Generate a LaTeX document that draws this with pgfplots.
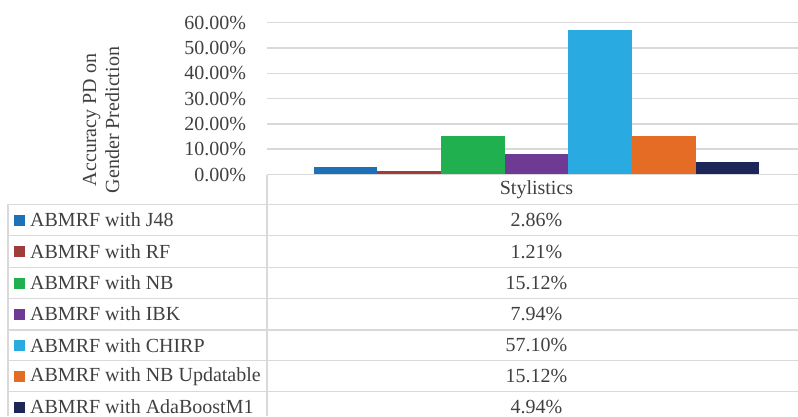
\documentclass[border=0pt]{standalone}
\usepackage{pgfplots}
\pgfplotsset{compat=1.18}
\usepackage{fontspec}
\setmainfont{Liberation Serif}
\definecolor{cJ}{HTML}{1C71B8}
\definecolor{cRF}{HTML}{A03C3A}
\definecolor{cNB}{HTML}{21B04F}
\definecolor{cIBK}{HTML}{6F3A93}
\definecolor{cCH}{HTML}{29ABE2}
\definecolor{cNBU}{HTML}{E46C24}
\definecolor{cAB}{HTML}{1D2659}
\definecolor{txt}{HTML}{404040}
\definecolor{ln}{HTML}{D9D9D9}
\begin{document}
\fontsize{20}{23}\selectfont
\begin{tikzpicture}
\useasboundingbox (0,0) rectangle (798pt,-416pt);
\clip (0,0) rectangle (798pt,-416pt);
\begin{axis}[
  at={(267pt,-174.5pt)}, anchor=south west,
  scale only axis, width=539pt, height=151.8pt,
  xmin=-0.5, xmax=0.5, ymin=0, ymax=60,
  ytick={0,10,20,30,40,50,60}, xtick=\empty,
  /pgf/number format/assume math mode=true,
  yticklabel={\pgfmathprintnumber[fixed,fixed zerofill,precision=2]{\tick}\%},
  yticklabel style={font=\fontsize{20}{23}\selectfont, text=txt, anchor=east, xshift=-14pt},
  major tick length=0pt,
  ymajorgrids, grid style={draw=ln, line width=1.5pt},
  axis line style={draw=none},
  ybar=0pt, bar width=63.7pt,
  clip=false,
]
\addplot[fill=cJ, draw=none] coordinates {(0,2.86)};
\addplot[fill=cRF, draw=none] coordinates {(0,1.21)};
\addplot[fill=cNB, draw=none] coordinates {(0,15.12)};
\addplot[fill=cIBK, draw=none] coordinates {(0,7.94)};
\addplot[fill=cCH, draw=none] coordinates {(0,57.10)};
\addplot[fill=cNBU, draw=none] coordinates {(0,15.12)};
\addplot[fill=cAB, draw=none] coordinates {(0,4.94)};
\end{axis}
\begin{scope}[x=1pt,y=-1pt]
  \draw[ln, line width=1.5pt] (267,174.5) -- (798,174.5);
  \foreach \yy in {204.3,235.7,267.3,298.5,330,360.7,391.7}
    \draw[ln, line width=1.5pt] (8,\yy) -- (798,\yy);
  \draw[ln, line width=1.5pt] (8,204.3) -- (8,416);
  \draw[ln, line width=1.5pt] (267,174.5) -- (267,416);
  \node[text=txt, rotate=90, align=center, font=\fontsize{20}{23}\selectfont] at (101,120) {Accuracy PD on\\Gender Prediction};
  \node[text=txt] at (536.5,189.5) {Stylistics};
  \foreach \yc/\col/\lab/\val in {
    220/cJ/ABMRF with J48/2.86\%,
    251.5/cRF/ABMRF with RF/1.21\%,
    283/cNB/ABMRF with NB/15.12\%,
    314/cIBK/ABMRF with IBK/7.94\%,
    345.4/cCH/ABMRF with CHIRP/57.10\%,
    376.2/cNBU/ABMRF with NB Updatable/15.12\%,
    407/cAB/ABMRF with AdaBoostM1/4.94\%} {
    \fill[\col] (14,\yc-5.5) rectangle (25,\yc+5.5);
    \node[text=txt, anchor=west, inner sep=0pt] at (30,\yc) {\lab};
    \node[text=txt] at (536.5,\yc) {\val};
  }
\end{scope}
\end{tikzpicture}
\end{document}
